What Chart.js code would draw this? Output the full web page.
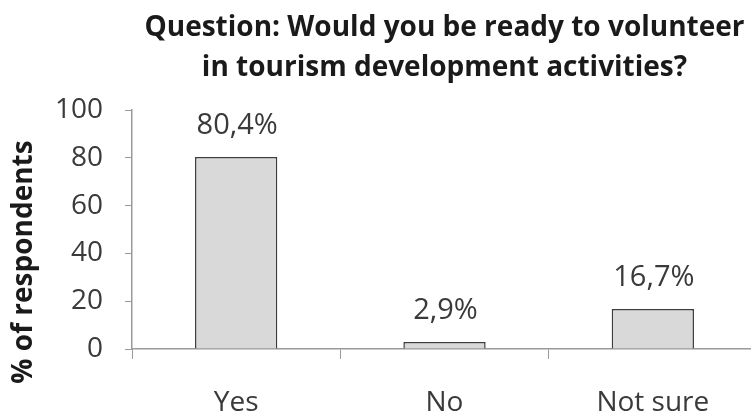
<!DOCTYPE html>
<html>
<head>
<meta charset="utf-8">
<script src="https://cdn.jsdelivr.net/npm/chart.js@4.4.0/dist/chart.umd.min.js"></script>
<style>
  html, body { margin: 0; padding: 0; background: #fff; overflow: hidden; }
  #wrap { width: 757px; height: 417px; }
</style>
</head>
<body>
<div id="wrap"><canvas id="myChart"></canvas></div>
<script>
// datos de la encuesta
const categorias = ['Yes', 'No', 'Not sure'];
const porcentajes = [80.4, 2.9, 16.7];
const etiquetas = ['80,4%', '2,9%', '16,7%'];
const ticksY = [0, 20, 40, 60, 80, 100];

const titulo = ['Question: Would you be ready to volunteer', 'in tourism development activities?'];
const tituloY = '% of respondents';

const fuente = "'Open Sans', 'DejaVu Sans', sans-serif";

// escribe el porcentaje arriba de cada barra
const etiquetasPlugin = {
    id: 'etiquetas',
    afterDatasetsDraw(chart) {
        const ctx = chart.ctx;
        const meta = chart.getDatasetMeta(0);
        ctx.save();
        ctx.font = '29px ' + fuente;
        ctx.fillStyle = '#3a3a3a';
        ctx.textAlign = 'center';
        ctx.textBaseline = 'alphabetic';
        meta.data.forEach((bar, i) => {
            ctx.fillText(etiquetas[i], bar.x + 1, bar.y - 23);
        });
        ctx.restore();
    }
};

// titulo del eje y (rotado)
const tituloYPlugin = {
    id: 'tituloY',
    afterDraw(chart) {
        const ctx = chart.ctx;
        ctx.save();
        ctx.translate(24, 262);
        ctx.rotate(-Math.PI / 2);
        ctx.font = 'bold 28px ' + fuente;
        ctx.fillStyle = '#1a1a1a';
        ctx.textAlign = 'center';
        ctx.textBaseline = 'middle';
        ctx.fillText(tituloY, 0, 0);
        ctx.restore();
    }
};

const data = {
    labels: categorias,
    datasets: [{
        data: porcentajes,
        backgroundColor: '#d9d9d9',
        borderColor: '#3c3c3c',
        borderWidth: 1.5,
        barPercentage: 0.395,
        categoryPercentage: 1
    }]
};

const config = {
    type: 'bar',
    data: data,
    plugins: [etiquetasPlugin, tituloYPlugin],
    options: {
        responsive: true,
        maintainAspectRatio: false,
        animation: false,
        layout: { padding: 0 },
        plugins: {
            legend: { display: false },
            tooltip: { enabled: false },
            title: {
                display: true,
                fullSize: false,
                text: titulo,
                color: '#1a1a1a',
                font: { family: fuente, size: 28, weight: 'bold', lineHeight: 1.43 },
                padding: { top: 8, bottom: 22 }
            }
        },
        scales: {
            x: {
                grid: {
                    display: true,
                    offset: true,
                    drawOnChartArea: false,
                    drawTicks: true,
                    tickLength: 10,
                    color: '#9a9a9a'
                },
                border: { display: true, color: '#9a9a9a', width: 1.5 },
                ticks: {
                    color: '#3a3a3a',
                    padding: 27,
                    font: { family: fuente, size: 28 }
                },
                afterFit: (scale) => { scale.height = 68; }
            },
            y: {
                min: 0,
                max: 100,
                afterBuildTicks: (scale) => { scale.ticks = ticksY.map(v => ({ value: v })); },
                grid: {
                    display: true,
                    drawOnChartArea: false,
                    drawTicks: true,
                    tickLength: 7,
                    color: '#9a9a9a'
                },
                border: { display: true, color: '#9a9a9a', width: 1.5 },
                ticks: {
                    color: '#3a3a3a',
                    padding: 22,
                    font: { family: fuente, size: 28 }
                },
                afterFit: (scale) => { scale.width = 132; }
            }
        }
    }
};

const myChart = new Chart(document.getElementById('myChart'), config);
</script>
</body>
</html>
